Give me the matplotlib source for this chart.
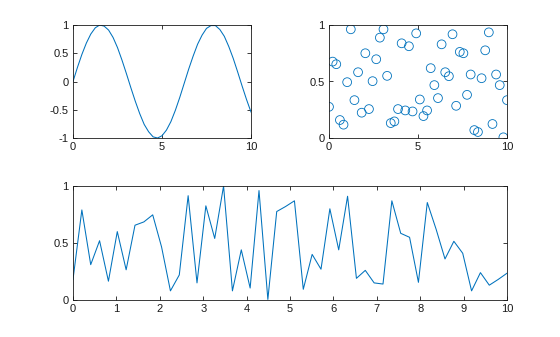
import numpy as np
import matplotlib
matplotlib.use("Agg")
import matplotlib.pyplot as plt

# sine curve, values (step 0.25)
sine_x = [i * 0.25 for i in range(41)]
sine_y = [0.00, 0.25, 0.48, 0.68, 0.84, 0.95, 1.00, 0.98, 0.91, 0.78,
          0.60, 0.38, 0.14, -0.11, -0.35, -0.57, -0.76, -0.89, -0.98, -1.00,
          -0.96, -0.86, -0.71, -0.51, -0.28, -0.03, 0.22, 0.45, 0.66, 0.82,
          0.94, 0.99, 0.99, 0.92, 0.80, 0.62, 0.41, 0.17, -0.08, -0.32,
          -0.54]

# 50 evenly spaced samples on [0, 10]
grid_x = np.linspace(0, 10, 50)

scatter_y = [0.276, 0.676, 0.653, 0.159, 0.118, 0.494, 0.962, 0.335, 0.582, 0.224,
             0.750, 0.256, 0.503, 0.697, 0.888, 0.962, 0.550, 0.132, 0.147, 0.256,
             0.838, 0.244, 0.812, 0.235, 0.926, 0.341, 0.194, 0.244, 0.618, 0.468,
             0.353, 0.829, 0.582, 0.547, 0.918, 0.285, 0.762, 0.750, 0.382, 0.562,
             0.070, 0.053, 0.529, 0.776, 0.935, 0.124, 0.562, 0.468, 0.006, 0.335]

line_y = [0.18, 0.79, 0.31, 0.52, 0.165, 0.60, 0.265, 0.656, 0.685, 0.747,
          0.465, 0.08, 0.22, 0.915, 0.15, 0.826, 0.54, 1.00, 0.08, 0.44,
          0.105, 0.96, 0.005, 0.776, 0.82, 0.87, 0.094, 0.40, 0.27, 0.80,
          0.44, 0.91, 0.19, 0.26, 0.15, 0.14, 0.87, 0.585, 0.55, 0.155,
          0.855, 0.62, 0.36, 0.515, 0.41, 0.08, 0.24, 0.13, 0.18, 0.235]

blue = "#0072BD"
plt.rcParams["font.family"] = ["Liberation Sans", "DejaVu Sans"]
plt.rcParams["font.size"] = 8


def style_axes(ax):
    for sp in ax.spines.values():
        sp.set_linewidth(0.6)
        sp.set_color("#1a1a1a")
    ax.tick_params(direction="in", length=3, width=0.6, top=True, right=True,
                   colors="#1a1a1a", labelcolor="#1a1a1a", pad=3)


fig = plt.figure(figsize=(5.6, 3.37), dpi=100)

ax1 = fig.add_axes([73 / 560, 1 - 138 / 337, 178 / 560, 113 / 337])
ax1.plot(sine_x, sine_y, color=blue, linewidth=0.75)
ax1.set_xlim(0, 10)
ax1.set_ylim(-1, 1)
ax1.set_xticks([0, 5, 10])
ax1.set_yticks([-1, -0.5, 0, 0.5, 1])
ax1.set_yticklabels(["-1", "-0.5", "0", "0.5", "1"])
style_axes(ax1)

ax2 = fig.add_axes([329 / 560, 1 - 138 / 337, 178 / 560, 113 / 337])
ax2.scatter(grid_x, scatter_y, s=40, facecolors="none", edgecolors=blue, linewidths=0.6)
ax2.set_xlim(0, 10)
ax2.set_ylim(0, 1)
ax2.set_xticks([0, 5, 10])
ax2.set_yticks([0, 0.5, 1])
ax2.set_yticklabels(["0", "0.5", "1"])
style_axes(ax2)

ax3 = fig.add_axes([73 / 560, 1 - 300 / 337, 434 / 560, 114 / 337])
ax3.plot(grid_x, line_y, color=blue, linewidth=0.75)
ax3.set_xlim(0, 10)
ax3.set_ylim(0, 1)
ax3.set_xticks(range(11))
ax3.set_yticks([0, 0.5, 1])
ax3.set_yticklabels(["0", "0.5", "1"])
style_axes(ax3)

fig.savefig("out.png", dpi=100)
